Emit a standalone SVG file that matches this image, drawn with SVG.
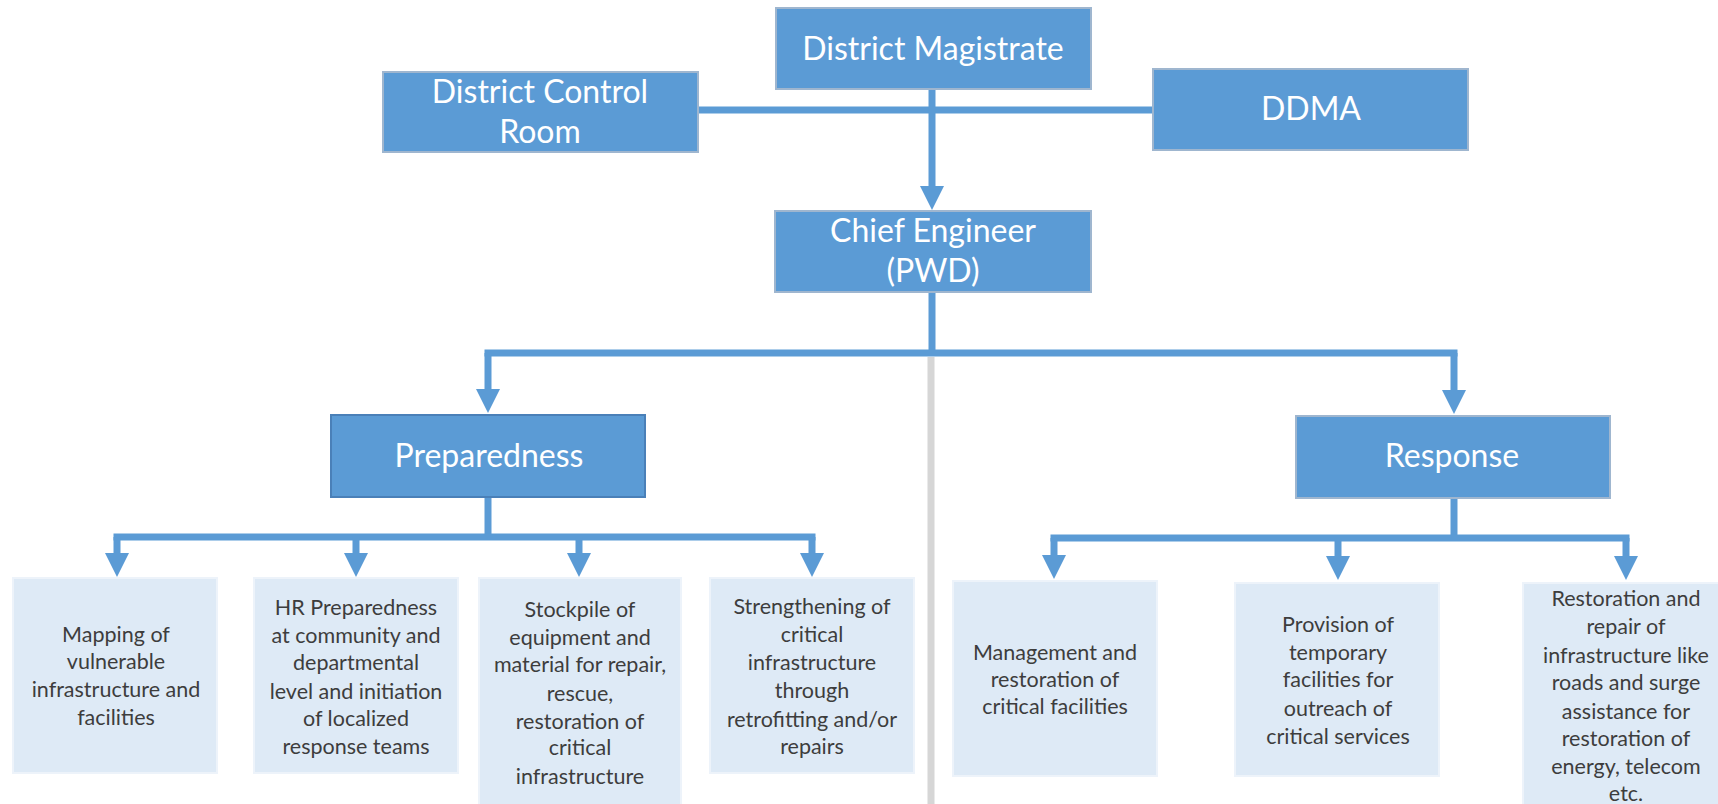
<svg xmlns="http://www.w3.org/2000/svg" width="1718" height="804" viewBox="0 0 1718 804">
  <style>
    .head rect { fill: #5b9bd5; stroke: #9fb6cf; stroke-width: 2; }
    .head.dark rect { stroke: #4a80b8; }
    .head text { font-family: Lato, "Liberation Sans", sans-serif; font-size: 32px; fill: #ffffff; text-anchor: middle; }
    .task rect { fill: #deeaf6; stroke: #edf3fa; stroke-width: 2; }
    .task text { font-family: Lato, "Liberation Sans", sans-serif; font-size: 21.5px; fill: #3d3d3d; text-anchor: middle; }
    .link { fill: none; stroke: #5b9bd5; stroke-width: 7; }
    .divider { stroke: #d6d6d6; stroke-width: 7; }
  </style>
  <defs>
    <marker id="arrow" markerUnits="userSpaceOnUse" markerWidth="24" markerHeight="24" viewBox="0 -12 24 24" refX="2" refY="0" orient="auto">
      <path d="M0,-12 L24,0 L0,12 z" fill="#5b9bd5"/>
    </marker>
  </defs>

  <rect width="1718" height="804" fill="#ffffff"/>

  <!-- divider between preparedness and response columns -->
  <line class="divider" x1="931" y1="357" x2="931" y2="804"/>

  <!-- connectors -->
  <g id="connectors">
    <!-- control room / DDMA link and magistrate feed -->
    <line class="link" x1="698" y1="110" x2="1153" y2="110"/>
    <line class="link" x1="932" y1="89" x2="932" y2="188" marker-end="url(#arrow)"/>

    <!-- chief engineer to the two phases -->
    <line class="link" x1="932" y1="292" x2="932" y2="353"/>
    <line class="link" x1="484.5" y1="353" x2="1457.5" y2="353"/>
    <line class="link" x1="488" y1="353" x2="488" y2="391" marker-end="url(#arrow)"/>
    <line class="link" x1="1454" y1="353" x2="1454" y2="392" marker-end="url(#arrow)"/>

    <!-- preparedness tasks -->
    <line class="link" x1="488" y1="497" x2="488" y2="537"/>
    <line class="link" x1="113.5" y1="537" x2="815.5" y2="537"/>
    <line class="link" x1="117" y1="537" x2="117" y2="555" marker-end="url(#arrow)"/>
    <line class="link" x1="356" y1="537" x2="356" y2="555" marker-end="url(#arrow)"/>
    <line class="link" x1="579" y1="537" x2="579" y2="555" marker-end="url(#arrow)"/>
    <line class="link" x1="812" y1="537" x2="812" y2="555" marker-end="url(#arrow)"/>

    <!-- response tasks -->
    <line class="link" x1="1454" y1="498" x2="1454" y2="538"/>
    <line class="link" x1="1050.5" y1="538" x2="1629.5" y2="538"/>
    <line class="link" x1="1054" y1="538" x2="1054" y2="557" marker-end="url(#arrow)"/>
    <line class="link" x1="1338" y1="538" x2="1338" y2="558" marker-end="url(#arrow)"/>
    <line class="link" x1="1626" y1="538" x2="1626" y2="558" marker-end="url(#arrow)"/>
  </g>

  <!-- top level -->
  <g id="district-magistrate" class="head">
    <rect x="776" y="8" width="315" height="81"/>
    <text x="933" y="60">District Magistrate</text>
  </g>
  <g id="district-control-room" class="head">
    <rect x="383" y="72" width="315" height="80"/>
    <text x="540" y="103">District Control</text>
    <text x="540" y="143">Room</text>
  </g>
  <g id="ddma" class="head">
    <rect x="1153" y="69" width="315" height="81"/>
    <text x="1311" y="120">DDMA</text>
  </g>
  <g id="chief-engineer" class="head">
    <rect x="775" y="211" width="316" height="81"/>
    <text x="933" y="242">Chief Engineer</text>
    <text x="933" y="282">(PWD)</text>
  </g>

  <!-- phases -->
  <g id="preparedness" class="head dark">
    <rect x="331" y="415" width="314" height="82"/>
    <text x="489" y="467">Preparedness</text>
  </g>
  <g id="response" class="head">
    <rect x="1296" y="416" width="314" height="82"/>
    <text x="1452" y="467">Response</text>
  </g>

  <!-- preparedness tasks -->
  <g id="mapping" class="task">
    <rect x="13" y="578" width="204" height="195"/>
    <text x="116" y="642">Mapping of</text>
    <text x="116" y="669">vulnerable</text>
    <text x="116" y="697">infrastructure and</text>
    <text x="116" y="725">facilities</text>
  </g>
  <g id="hr-preparedness" class="task">
    <rect x="254" y="578" width="204" height="195"/>
    <text x="356" y="615">HR Preparedness</text>
    <text x="356" y="643">at community and</text>
    <text x="356" y="670">departmental</text>
    <text x="356" y="699">level and initiation</text>
    <text x="356" y="726">of localized</text>
    <text x="356" y="754">response teams</text>
  </g>
  <g id="stockpile" class="task">
    <rect x="479" y="578" width="202" height="236"/>
    <text x="580" y="617">Stockpile of</text>
    <text x="580" y="645">equipment and</text>
    <text x="580" y="672">material for repair,</text>
    <text x="580" y="701">rescue,</text>
    <text x="580" y="729">restoration of</text>
    <text x="580" y="755">critical</text>
    <text x="580" y="784">infrastructure</text>
  </g>
  <g id="strengthening" class="task">
    <rect x="710" y="578" width="204" height="195"/>
    <text x="812" y="614">Strengthening of</text>
    <text x="812" y="642">critical</text>
    <text x="812" y="670">infrastructure</text>
    <text x="812" y="698">through</text>
    <text x="812" y="727">retrofitting and/or</text>
    <text x="812" y="754">repairs</text>
  </g>

  <!-- response tasks -->
  <g id="management" class="task">
    <rect x="953" y="581" width="204" height="195"/>
    <text x="1055" y="660">Management and</text>
    <text x="1055" y="687">restoration of</text>
    <text x="1055" y="714">critical facilities</text>
  </g>
  <g id="temporary-facilities" class="task">
    <rect x="1235" y="583" width="204" height="193"/>
    <text x="1338" y="632">Provision of</text>
    <text x="1338" y="660">temporary</text>
    <text x="1338" y="687">facilities for</text>
    <text x="1338" y="716">outreach of</text>
    <text x="1338" y="744">critical services</text>
  </g>
  <g id="restoration" class="task">
    <rect x="1523" y="583" width="206" height="231"/>
    <text x="1626" y="606">Restoration and</text>
    <text x="1626" y="634">repair of</text>
    <text x="1626" y="663">infrastructure like</text>
    <text x="1626" y="690">roads and surge</text>
    <text x="1626" y="719">assistance for</text>
    <text x="1626" y="746">restoration of</text>
    <text x="1626" y="774">energy, telecom</text>
    <text x="1626" y="801">etc.</text>
  </g>
</svg>
